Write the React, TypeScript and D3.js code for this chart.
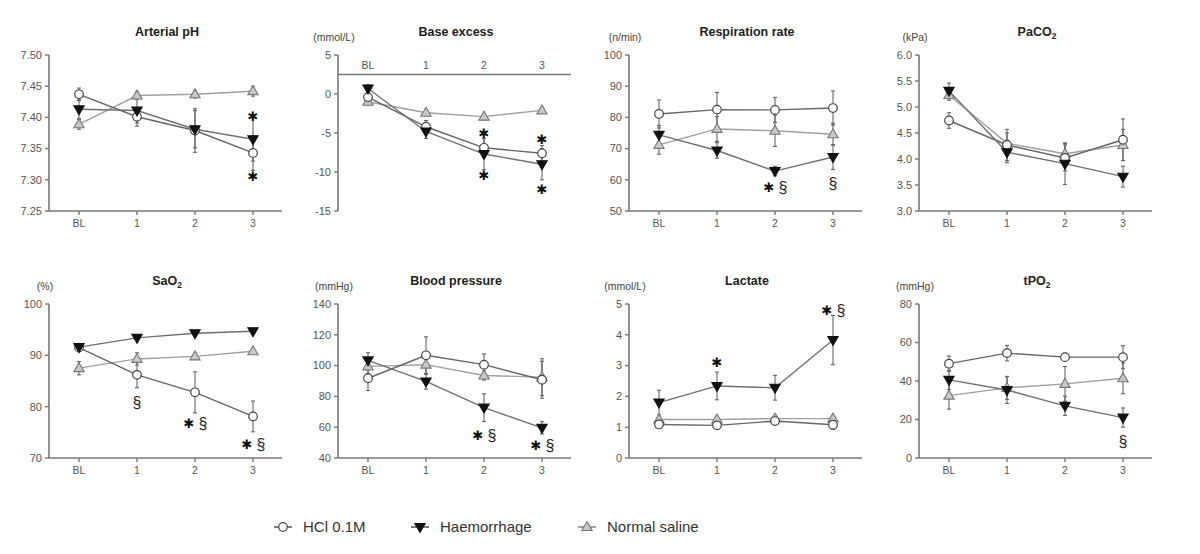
import React from "react";
import * as d3 from "d3";

// ---------- categories / legend ----------
const timepoints = ["BL", "1", "2", "3"];
const seriesNames = ["HCl 0.1M", "Haemorrhage", "Normal saline"];

// ---------- Arterial pH ----------
const phHcl = [7.437, 7.401, 7.379, 7.343];
const phHclSd = [0.01, 0.015, 0.035, 0.028];
const phHaem = [7.413, 7.411, 7.381, 7.365];
const phHaemSd = [0.015, 0.02, 0.03, 0.035];
const phNs = [7.389, 7.435, 7.437, 7.442];
const phNsSd = [0.008, 0.006, 0.006, 0.008];
const phMarks: [number, number, string][] = [[3, 7.402, "*"], [3, 7.305, "*"]];
const phTicks = [7.25, 7.3, 7.35, 7.4, 7.45, 7.5];

// ---------- Base excess ----------
const beHcl = [-0.4, -4.2, -6.9, -7.6];
const beHclSd = [0.8, 0.8, 1.2, 1.0];
const beHaem = [0.7, -4.8, -7.7, -9.0];
const beHaemSd = [0.5, 0.9, 2.0, 2.0];
const beNs = [-1.0, -2.4, -2.9, -2.1];
const beNsSd = [0.4, 0.4, 0.4, 0.3];
const beMarks: [number, number, string][] = [[2, -5.1, "*"], [2, -10.4, "*"], [3, -5.8, "*"], [3, -12.2, "*"]];
const beTicks = [-15, -10, -5, 0, 5];

// ---------- Respiration rate ----------
const rrHcl = [81.1, 82.5, 82.4, 83.0];
const rrHclSd = [4.5, 5.5, 4.0, 5.5];
const rrHaem = [74.4, 69.4, 62.8, 67.3];
const rrHaemSd = [3.0, 2.5, 1.5, 4.0];
const rrNs = [71.2, 76.3, 75.7, 74.6];
const rrNsSd = [3.0, 4.0, 5.0, 3.5];
const rrMarks: [number, number, string][] = [[2, 57.5, "*§"], [3, 59, "§"]];
const rrTicks = [50, 60, 70, 80, 90, 100];

// ---------- PaCO2 ----------
const pcHcl = [4.74, 4.27, 4.02, 4.37];
const pcHclSd = [0.15, 0.3, 0.25, 0.4];
const pcHaem = [5.31, 4.13, 3.91, 3.66];
const pcHaemSd = [0.15, 0.2, 0.4, 0.2];
const pcNs = [5.23, 4.3, 4.1, 4.27];
const pcNsSd = [0.1, 0.2, 0.2, 0.3];
const pcMarks: [number, number, string][] = [];
const pcTicks = [3.0, 3.5, 4.0, 4.5, 5.0, 5.5, 6.0];

// ---------- SaO2 ----------
const saHcl = [91.5, 86.2, 82.8, 78.1];
const saHclSd = [0.5, 2.5, 4.0, 3.0];
const saHaem = [91.6, 93.4, 94.3, 94.7];
const saHaemSd = [0.5, 0.4, 0.3, 0.3];
const saNs = [87.5, 89.3, 89.8, 90.8];
const saNsSd = [1.3, 1.2, 0.6, 0.5];
const saMarks: [number, number, string][] = [[1, 80.8, "§"], [2, 76.8, "*§"], [3, 72.6, "*§"]];
const saTicks = [70, 80, 90, 100];

// ---------- Blood pressure ----------
const bpHcl = [91.8, 106.7, 100.6, 90.8];
const bpHclSd = [8, 12, 7, 12];
const bpHaem = [103.4, 89.7, 72.7, 59.6];
const bpHaemSd = [5, 5, 9, 4];
const bpNs = [99.5, 100.6, 93.6, 92.5];
const bpNsSd = [5, 6, 3, 12];
const bpMarks: [number, number, string][] = [[2, 55, "*§"], [3, 48.5, "*§"]];
const bpTicks = [40, 60, 80, 100, 120, 140];

// ---------- Lactate ----------
const laHcl = [1.09, 1.06, 1.2, 1.08];
const laHclSd = [0.1, 0.1, 0.1, 0.15];
const laHaem = [1.8, 2.34, 2.28, 3.83];
const laHaemSd = [0.4, 0.45, 0.4, 0.8];
const laNs = [1.25, 1.25, 1.28, 1.28];
const laNsSd = [0.1, 0.1, 0.1, 0.1];
const laMarks: [number, number, string][] = [[1, 3.1, "*"], [3, 4.8, "*§"]];
const laTicks = [0, 1, 2, 3, 4, 5];

// ---------- tPO2 ----------
const tpHcl = [49.0, 54.5, 52.4, 52.4];
const tpHclSd = [4, 4, 2, 6];
const tpHaem = [40.6, 35.3, 27.1, 21.0];
const tpHaemSd = [5, 7, 5, 5];
const tpNs = [32.4, 36.4, 38.5, 41.4];
const tpNsSd = [7, 6, 9, 8];
const tpMarks: [number, number, string][] = [[3, 8.8, "§"]];
const tpTicks = [0, 20, 40, 60, 80];

// ---------- layout ----------
const colAxisX = [49, 338, 629, 919];
const rowTop = [55, 304];
const rowBottom = [211, 458];
const FONT = "'Liberation Sans', Arial, sans-serif";

type Panel = {
  title: string;
  sub?: string;
  unit: string;
  ticks: number[];
  fmt: (v: number) => string;
  col: number;
  row: number;
  series: { mean: number[]; sd: number[] }[];
  marks: [number, number, string][];
  xAxisAt?: number;
};

const f2 = d3.format(".2f");
const f1 = d3.format(".1f");
const f0 = (v: number) => String(v);

const panels: Panel[] = [
  { title: "Arterial pH", unit: "", ticks: phTicks, fmt: f2, col: 0, row: 0,
    series: [{ mean: phHcl, sd: phHclSd }, { mean: phHaem, sd: phHaemSd }, { mean: phNs, sd: phNsSd }], marks: phMarks },
  { title: "Base excess", unit: "(mmol/L)", ticks: beTicks, fmt: f0, col: 1, row: 0, xAxisAt: 2.5,
    series: [{ mean: beHcl, sd: beHclSd }, { mean: beHaem, sd: beHaemSd }, { mean: beNs, sd: beNsSd }], marks: beMarks },
  { title: "Respiration rate", unit: "(n/min)", ticks: rrTicks, fmt: f0, col: 2, row: 0,
    series: [{ mean: rrHcl, sd: rrHclSd }, { mean: rrHaem, sd: rrHaemSd }, { mean: rrNs, sd: rrNsSd }], marks: rrMarks },
  { title: "PaCO", sub: "2", unit: "(kPa)", ticks: pcTicks, fmt: f1, col: 3, row: 0,
    series: [{ mean: pcHcl, sd: pcHclSd }, { mean: pcHaem, sd: pcHaemSd }, { mean: pcNs, sd: pcNsSd }], marks: pcMarks },
  { title: "SaO", sub: "2", unit: "(%)", ticks: saTicks, fmt: f0, col: 0, row: 1,
    series: [{ mean: saHcl, sd: saHclSd }, { mean: saHaem, sd: saHaemSd }, { mean: saNs, sd: saNsSd }], marks: saMarks },
  { title: "Blood pressure", unit: "(mmHg)", ticks: bpTicks, fmt: f0, col: 1, row: 1,
    series: [{ mean: bpHcl, sd: bpHclSd }, { mean: bpHaem, sd: bpHaemSd }, { mean: bpNs, sd: bpNsSd }], marks: bpMarks },
  { title: "Lactate", unit: "(mmol/L)", ticks: laTicks, fmt: f0, col: 2, row: 1,
    series: [{ mean: laHcl, sd: laHclSd }, { mean: laHaem, sd: laHaemSd }, { mean: laNs, sd: laNsSd }], marks: laMarks },
  { title: "tPO", sub: "2", unit: "(mmHg)", ticks: tpTicks, fmt: f0, col: 3, row: 1,
    series: [{ mean: tpHcl, sd: tpHclSd }, { mean: tpHaem, sd: tpHaemSd }, { mean: tpNs, sd: tpNsSd }], marks: tpMarks },
];

const styles = [
  { line: "#666", stroke: "#444", fill: "#fff", shape: "circle" },
  { line: "#707070", stroke: "#111", fill: "#111", shape: "down" },
  { line: "#a0a0a0", stroke: "#777", fill: "#c8c8c8", shape: "up" },
];

const triPath = d3.symbol(d3.symbolTriangle, 46)() as string;

function Marker({ x, y, s }: { x: number; y: number; s: number }) {
  const st = styles[s];
  if (st.shape === "circle")
    return <circle cx={x} cy={y} r={4.3} fill={st.fill} stroke={st.stroke} strokeWidth={1.2} />;
  const rot = st.shape === "down" ? 180 : 0;
  return (
    <path d={triPath} transform={`translate(${x},${y + (rot ? -0.5 : 0.5)}) rotate(${rot})`}
      fill={st.fill} stroke={st.stroke} strokeWidth={1.1} />
  );
}

function PanelView({ p }: { p: Panel }) {
  const ax = colAxisX[p.col];
  const top = rowTop[p.row];
  const bot = rowBottom[p.row];
  const dom = d3.extent(p.ticks) as [number, number];
  const y = d3.scaleLinear().domain(dom).range([bot, top]);
  const x = d3.scalePoint<string>().domain(timepoints).range([ax + 30, ax + 204]);
  const xEnd = ax + 233;
  const axisY = p.xAxisAt !== undefined ? y(p.xAxisAt) : bot;
  const labelsAbove = p.xAxisAt !== undefined;
  const titleX = ax + 118;
  const titleY = top - 19;
  const line = d3.line<number>().x((_, i) => x(timepoints[i]) as number).y((d) => y(d));
  const order = [2, 0, 1];
  return (
    <g fontFamily={FONT}>
      <text x={titleX} y={titleY} textAnchor="middle" fontSize={12.5} fontWeight="bold" fill="#222">
        {p.title}
        {p.sub && <tspan fontSize={8.5} dy={3}>{p.sub}</tspan>}
      </text>
      {p.unit && (
        <text x={ax - 4} y={top - 14} textAnchor="middle" fontSize={10.5} fill="#444">{p.unit}</text>
      )}
      {/* y axis */}
      <line x1={ax} x2={ax} y1={top} y2={bot} stroke="#777" strokeWidth={1.6} />
      {p.ticks.map((t) => (
        <g key={t}>
          <line x1={ax - 4} x2={ax} y1={y(t)} y2={y(t)} stroke="#777" strokeWidth={1.4} />
          <text x={ax - 7} y={y(t)} dy="0.35em" textAnchor="end" fontSize={11} fill="#555">{p.fmt(t)}</text>
        </g>
      ))}
      {/* x axis */}
      <line x1={ax} x2={xEnd} y1={axisY} y2={axisY} stroke="#777" strokeWidth={1.6} />
      {timepoints.map((t) => (
        <g key={t}>
          {!labelsAbove && (
            <line x1={x(t)} x2={x(t)} y1={axisY} y2={axisY + 4} stroke="#777" strokeWidth={1.4} />
          )}
          <text x={x(t)} y={labelsAbove ? axisY - 6 : axisY + 16} textAnchor="middle" fontSize={10.5} fill="#555">{t}</text>
        </g>
      ))}
      {/* lines */}
      {order.map((s) => (
        <path key={"l" + s} d={line(p.series[s].mean) as string} fill="none" stroke={styles[s].line} strokeWidth={1.4} />
      ))}
      {/* error bars */}
      {order.map((s) =>
        p.series[s].mean.map((m, i) => {
          const cx = x(timepoints[i]) as number;
          const sd = p.series[s].sd[i];
          const y1 = y(m + sd);
          const y2 = y(m - sd);
          return (
            <g key={"e" + s + i} stroke="#666" strokeWidth={1.1}>
              <line x1={cx} x2={cx} y1={y1} y2={y2} />
              <line x1={cx - 2} x2={cx + 2} y1={y1} y2={y1} />
              <line x1={cx - 2} x2={cx + 2} y1={y2} y2={y2} />
            </g>
          );
        })
      )}
      {/* markers */}
      {order.map((s) =>
        p.series[s].mean.map((m, i) => (
          <Marker key={"m" + s + i} x={x(timepoints[i]) as number} y={y(m)} s={s} />
        ))
      )}
      {/* significance marks */}
      {p.marks.map(([i, v, txt], k) => {
        const cx = x(timepoints[i]) as number;
        const cy = y(v);
        const hasStar = txt.includes("*");
        const hasSec = txt.includes("§");
        const both = hasStar && hasSec;
        return (
          <g key={"k" + k}>
            {hasStar && (
              <text x={both ? cx - 6 : cx} y={cy} dy="0.36em" textAnchor="middle" fontSize={13}
                fontFamily="'DejaVu Sans', sans-serif" fill="#111">✱</text>
            )}
            {hasSec && (
              <text x={both ? cx + 8 : cx} y={cy} dy="0.36em" textAnchor="middle" fontSize={16}
                fontFamily={FONT} fill="#222">§</text>
            )}
          </g>
        );
      })}
    </g>
  );
}

function Legend() {
  const items = [
    { mx: 283, tx: 303 },
    { mx: 420, tx: 440 },
    { mx: 587, tx: 607 },
  ];
  const ly = 527;
  return (
    <g fontFamily={FONT}>
      {items.map((it, s) => (
        <g key={s}>
          <line x1={it.mx - 9} x2={it.mx + 9} y1={ly} y2={ly} stroke={s === 2 ? "#777" : "#444"} strokeWidth={1.4} />
          <Marker x={it.mx} y={ly} s={s} />
          <text x={it.tx} y={ly} dy="0.35em" fontSize={15} fill="#333">{seriesNames[s]}</text>
        </g>
      ))}
    </g>
  );
}

export default function App() {
  return (
    <svg width={1200} height={554} style={{ position: "absolute", left: 0, top: 0, background: "#fff" }}>
      <rect width={1200} height={554} fill="#fff" />
      {panels.map((p, i) => (
        <PanelView key={i} p={p} />
      ))}
      <Legend />
    </svg>
  );
}
